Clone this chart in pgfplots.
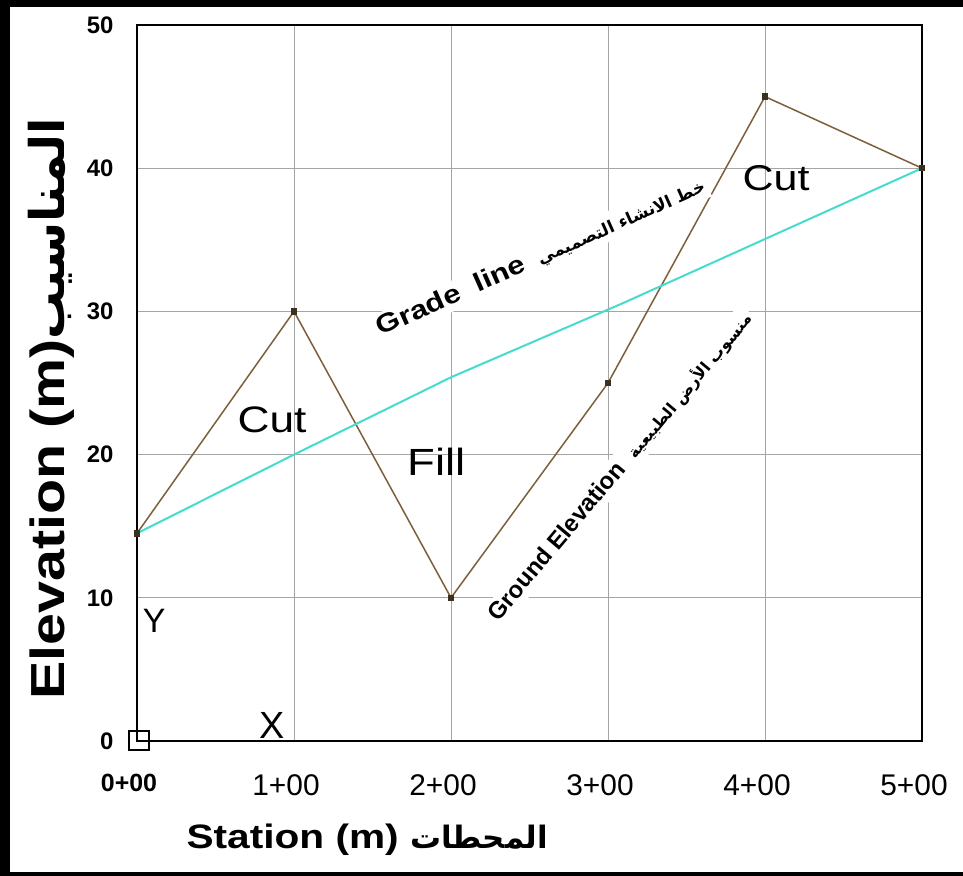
\documentclass[border=0pt]{standalone}
\usepackage{pgfplots}
\pgfplotsset{compat=1.18}
\usepackage{fontspec}
\setmainfont{Liberation Sans}
\newfontfamily\widesans[FakeStretch=1.2]{Liberation Sans}
\newfontfamily\arabicfont[Script=Arabic]{DejaVu Sans}
\TeXXeTstate=1

\definecolor{ground}{RGB}{125,95,60}
\definecolor{grade}{RGB}{70,220,205}
\definecolor{gridgray}{RGB}{165,165,165}

\begin{document}
\begin{tikzpicture}
\useasboundingbox (-137bp,-135bp) rectangle (826bp,741bp);
\fill[white] (-137bp,-135bp) rectangle (826bp,741bp);
\begin{axis}[
  scale only axis, width=785bp, height=716bp,
  xmin=0, xmax=5, ymin=0, ymax=50,
  xtick={0,...,5}, ytick={0,10,...,50},
  xticklabels={{\bfseries\fontsize{25}{25}\selectfont 0+00},1+00,2+00,3+00,4+00,5+00},
  major tick length=0pt,
  grid=major, grid style={gridgray, line width=1bp},
  axis line style={black, line width=1.5bp},
  xticklabel style={font=\fontsize{30}{30}\selectfont, yshift=-30bp, xshift=-8bp},
  yticklabel style={font=\fontsize{24}{24}\selectfont\bfseries, xshift=-20bp},
  /pgf/number format/assume math mode=true,
  clip=false,
]
% ground elevation
\addplot[ground, line width=1.5bp, mark=square*, mark size=2.5bp,
  mark options={fill=ground!50!black, draw=ground!50!black}]
  coordinates {(0,14.5)(1,30)(2,10)(3,25)(4,45)(5,40)};
% grade line
\addplot[grade, line width=2bp]
  coordinates {(0,14.5)(1,20)(2,25.4)(3.1,30.6)(5,40)};

\node[font=\widesans\fontsize{37}{37}\selectfont] at (axis cs:0.86,22.4) {Cut};
\node[font=\widesans\fontsize{38}{38}\selectfont] at (axis cs:1.91,19.5) {Fill};
\node[font=\widesans\fontsize{36}{36}\selectfont] at (axis cs:4.07,39.3) {Cut};

\node[rotate=24, anchor=base west, fill=white, inner sep=3bp,
  font=\widesans\bfseries\fontsize{26}{26}\selectfont] at (axis cs:1.535,28.2)
  {Grade\ \ line\hspace{14bp}{\arabicfont\bfseries\fontsize{17}{17}\selectfont\beginR خط الانشاء التصميمي\endR}};
\node[rotate=50, anchor=base west, fill=white, inner sep=3bp,
  font=\bfseries\fontsize{24}{24}\selectfont] at (axis cs:2.29,8.1)
  {Ground Elevation\hspace{14bp}{\arabicfont\bfseries\fontsize{16}{16}\selectfont\beginR منسوب الأرض الطبيعية\endR}};

\node[font=\fontsize{34}{34}\selectfont] at (axis cs:0.11,8.4) {Y};
\node[font=\fontsize{38}{38}\selectfont] at (axis cs:0.86,1.1) {X};
\end{axis}
\draw[black, line width=1.5bp] (-8bp,-9bp) rectangle (12bp,10bp);

\node[rotate=90, anchor=base west, font=\widesans\bfseries\fontsize{48}{48}\selectfont]
  at (-72bp,38bp) {Elevation (m){\arabicfont\bfseries\beginR المناسيب\endR}};
\node[anchor=base west, font=\widesans\bfseries\fontsize{34}{34}\selectfont]
  at (46bp,-107bp) {Station (m) {\arabicfont\bfseries\fontsize{31}{31}\selectfont\beginR المحطات\endR}};

\fill[black] (-137bp,734bp) rectangle (826bp,741bp);
\fill[black] (-137bp,-135bp) rectangle (-127bp,741bp);
\fill[black] (-137bp,-135bp) rectangle (826bp,-131bp);
\end{tikzpicture}
\end{document}
